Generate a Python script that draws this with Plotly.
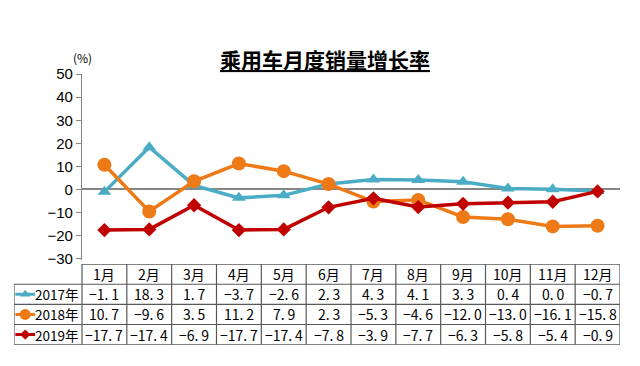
import plotly.graph_objects as go

months = ["1月", "2月", "3月", "4月", "5月", "6月", "7月", "8月", "9月", "10月", "11月", "12月"]
series_names = ["2017年", "2018年", "2019年"]
v2017 = [-1.1, 18.3, 1.7, -3.7, -2.6, 2.3, 4.3, 4.1, 3.3, 0.4, 0.0, -0.7]
v2018 = [10.7, -9.6, 3.5, 11.2, 7.9, 2.3, -5.3, -4.6, -12.0, -13.0, -16.1, -15.8]
v2019 = [-17.7, -17.4, -6.9, -17.7, -17.4, -7.8, -3.9, -7.7, -6.3, -5.8, -5.4, -0.9]
y_ticks = [-30, -20, -10, 0, 10, 20, 30, 40, 50]

series_vals = [v2017, v2018, v2019]
colors = ["#4BACC6", "#EE7A17", "#C00000"]
symbols = ["triangle-up", "circle", "diamond"]
msizes = [12, 14, 11]

W, H = 640, 366
xs = list(range(1, 13))

fig = go.Figure()

for name, vals, c, s, ms in zip(series_names, series_vals, colors, symbols, msizes):
    fig.add_trace(go.Scatter(
        x=xs, y=vals, mode="lines+markers", name=name,
        line=dict(color=c, width=3.5),
        marker=dict(symbol=s, size=ms, color=c),
        xaxis="x", yaxis="y", showlegend=False, cliponaxis=False,
    ))

# table geometry (x2 in month units, y2 in row units)
col_px = 538 / 12
label_w = 68 / col_px
x2_min = 0.5 - label_w
for r, (c, s, ms) in enumerate(zip(colors, symbols, msizes)):
    yy = r + 1.5
    fig.add_trace(go.Scatter(
        x=[x2_min + 0.03, x2_min + 0.47], y=[yy, yy], mode="lines",
        line=dict(color=c, width=3), xaxis="x2", yaxis="y2", showlegend=False,
        hoverinfo="skip"))
    fig.add_trace(go.Scatter(
        x=[x2_min + 0.25], y=[yy], mode="markers",
        marker=dict(symbol=s, size=ms - 3, color=c), xaxis="x2", yaxis="y2",
        showlegend=False, hoverinfo="skip"))

shapes = []
grid = dict(color="#595959", width=1.2)
shapes.append(dict(type="line", xref="x2", yref="y2", x0=0.5, x1=12.5, y0=0, y1=0, line=grid))
for r in range(1, 5):
    shapes.append(dict(type="line", xref="x2", yref="y2", x0=x2_min, x1=12.5, y0=r, y1=r, line=grid))
shapes.append(dict(type="line", xref="x2", yref="y2", x0=x2_min, x1=x2_min, y0=1, y1=4, line=grid))
for i in range(13):
    xv = 0.5 + i
    shapes.append(dict(type="line", xref="x2", yref="y2", x0=xv, x1=xv, y0=0, y1=4, line=grid))

annotations = []
tfont = dict(family="Noto Sans CJK SC, sans-serif", size=14, color="#000000")
lfont = dict(family="Noto Sans CJK SC, sans-serif", size=13.5, color="#000000")
for i, m in enumerate(months):
    annotations.append(dict(xref="x2", yref="y2", x=i + 1, y=0.5, text=m, showarrow=False,
                            xanchor="center", yanchor="middle", font=tfont))


def fmt(v):
    s = f"{abs(v):.1f}".replace(".", ".\u2009")
    return ("−" if v < 0 else "") + s


for r, (name, vals) in enumerate(zip(series_names, series_vals)):
    annotations.append(dict(xref="x2", yref="y2", x=0.5 - 2 / col_px, y=r + 1.5, text=name,
                            showarrow=False, xanchor="right", yanchor="middle", font=lfont))
    for i, v in enumerate(vals):
        annotations.append(dict(xref="x2", yref="y2", x=i + 1, y=r + 1.5, text=fmt(v),
                                showarrow=False, xanchor="center", yanchor="middle", font=tfont))

annotations.append(dict(xref="paper", yref="paper", x=325 / W, y=1 - 52 / H,
                        text="<b>乘用车月度销量增长率</b>", showarrow=False,
                        xanchor="center", yanchor="middle",
                        font=dict(family="Noto Sans CJK SC, sans-serif", size=21, color="#000000",
                                  lineposition="under")))
annotations.append(dict(xref="paper", yref="paper", x=82 / W, y=1 - 51 / H,
                        text="(%)", showarrow=False, xanchor="center", yanchor="middle",
                        font=dict(family="Noto Sans CJK SC, sans-serif", size=12, color="#000000")))

fig.update_layout(
    width=W, height=H,
    margin=dict(l=0, r=0, t=0, b=0),
    paper_bgcolor="white", plot_bgcolor="white",
    xaxis=dict(domain=[82 / W, 620 / W], range=[0.5, 12.5], showticklabels=False,
               showgrid=False, zeroline=False, showline=False, ticks=""),
    yaxis=dict(domain=[1 - 262 / H, 1 - 68 / H], range=[-30.8, 50], tickvals=y_ticks,
               ticks="outside", ticklen=5, tickcolor="#868686", showline=True,
               linecolor="#868686", linewidth=1.2, showgrid=False,
               zeroline=True, zerolinecolor="#868686", zerolinewidth=1.5,
               tickfont=dict(family="Liberation Sans, Arial, sans-serif", size=15, color="#000000")),
    xaxis2=dict(domain=[14 / W, 620 / W], range=[x2_min, 12.5], visible=False, anchor="y2"),
    yaxis2=dict(domain=[1 - 350 / H, 1 - 266 / H], range=[4, 0], visible=False, anchor="x2"),
    shapes=shapes, annotations=annotations,
    hovermode=False,
)

fig.write_html("out.html", config={"displayModeBar": False},
               post_script="document.body.style.margin='0';document.body.style.padding='0';"
                           "document.body.style.overflow='hidden';")
